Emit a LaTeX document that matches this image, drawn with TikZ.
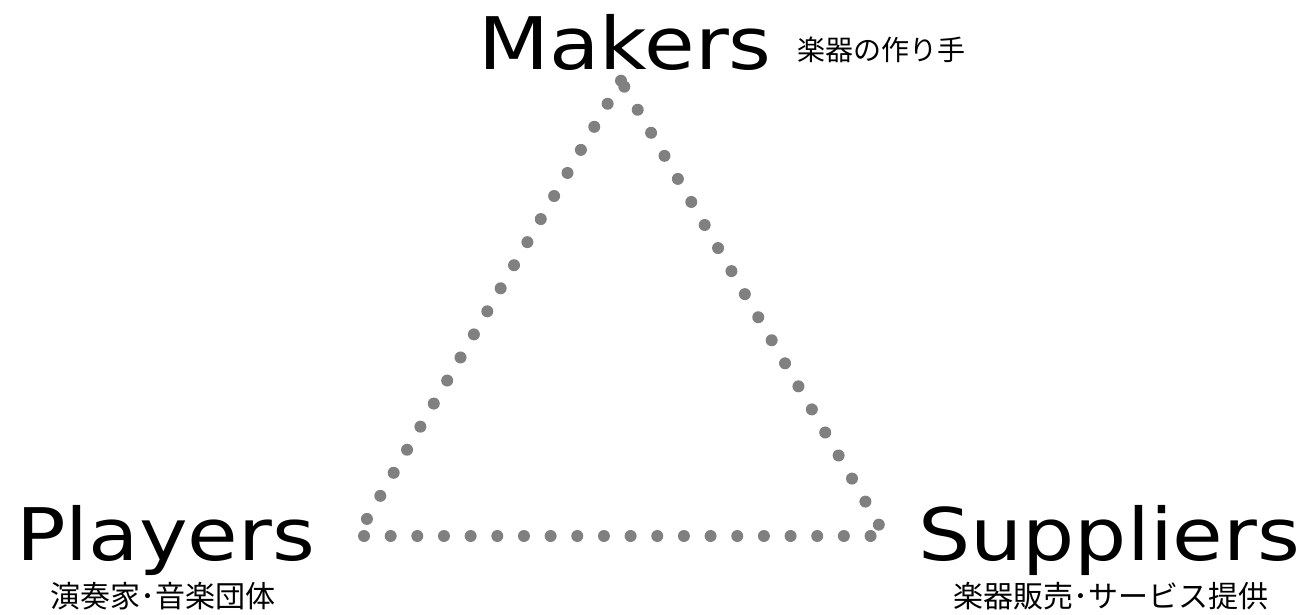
\documentclass[tikz,border=0pt]{standalone}
\usepackage{fontspec}
\newfontfamily\latinfont{DejaVu Sans}[FakeStretch=1.135]
\newfontfamily\jpfont{Noto Sans CJK JP}
\definecolor{dotgray}{RGB}{128,128,128}
\begin{document}
\begin{tikzpicture}[x=1pt,y=1pt,
  bigname/.style={inner sep=0pt, anchor=base west, font=\latinfont\fontsize{72.5}{80}\selectfont, text=black},
  jpname/.style={inner sep=0pt, anchor=center, font=\jpfont\fontsize{30}{34}\selectfont, text=black},
  jpsmall/.style={inner sep=0pt, anchor=center, font=\jpfont\fontsize{28}{32}\selectfont, text=black},
  dotline/.style={draw=dotgray, line width=12pt, line cap=round, dash pattern=on 0pt off 26.66pt}]
\useasboundingbox (0,0) rectangle (1303,614);
% labels
\node[bigname] (makers) at (478,544) {Makers};
\node[jpsmall] (makersjp) at (881,564) {楽器の作り手};
\node[bigname] (players) at (16,54) {Players};
\node[jpname] (playersjp) at (163.4,18) {演奏家･音楽団体};
\node[bigname] (suppliers) at (918,54) {Suppliers};
\node[jpname] (suppliersjp) at (1110.5,18) {楽器販売･サービス提供};
% triangle corners
\coordinate (lb) at (366.7,94.7);
\coordinate (lt) at (621,533.3);
\coordinate (rt) at (624.3,527.3);
\coordinate (rb) at (879,89);
\coordinate (bl) at (364,78);
\coordinate (br) at (871,78);
\draw[dotline] (lt) -- (lb);
\draw[dotline] (rt) -- (rb);
\draw[dotline] (bl) -- (br);
\end{tikzpicture}
\end{document}
